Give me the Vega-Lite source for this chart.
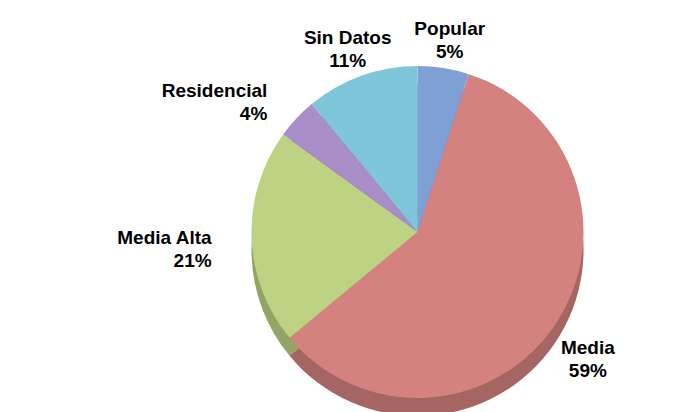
{
  "$schema": "https://vega.github.io/schema/vega-lite/v6.json",
  "autosize": "none",
  "width": 535,
  "height": 352,
  "padding": {"left": 150, "top": 56, "right": 0, "bottom": 4},
  "background": "white",
  "view": {"stroke": null},
  "data": {
    "values": [
      {"orden": 1, "categoria": "Popular", "porcentaje": 5, "etiqueta": "Popular\n5%"},
      {"orden": 2, "categoria": "Media", "porcentaje": 59, "etiqueta": "Media\n59%"},
      {"orden": 3, "categoria": "Media Alta", "porcentaje": 21, "etiqueta": "Media Alta\n21%"},
      {"orden": 4, "categoria": "Residencial", "porcentaje": 4, "etiqueta": "Residencial\n4%"},
      {"orden": 5, "categoria": "Sin Datos", "porcentaje": 11, "etiqueta": "Sin Datos\n11%"}
    ]
  },
  "encoding": {
    "theta": {"field": "porcentaje", "type": "quantitative", "stack": true},
    "order": {"field": "orden", "type": "quantitative"},
    "color": {
      "field": "categoria",
      "type": "nominal",
      "legend": null,
      "scale": {
        "domain": ["Popular", "Media", "Media Alta", "Residencial", "Sin Datos"],
        "range": ["#7ea0d4", "#d4827f", "#bdd282", "#a88dc8", "#80c6da"]
      }
    }
  },
  "layer": [
    {"mark": {"type": "arc", "outerRadius": 166, "yOffset": 18}},
    {"mark": {"type": "arc", "outerRadius": 166, "yOffset": 18, "fill": "black", "opacity": 0.22}},
    {"mark": {"type": "arc", "outerRadius": 166}},
    {
      "mark": {
        "type": "text",
        "radius": 206,
        "font": "Liberation Sans",
        "fontWeight": "bold",
        "fontSize": 19,
        "lineBreak": "\n",
        "lineHeight": 23,
        "fill": "black",
        "align": {"expr": "datum.categoria == 'Media Alta' || datum.categoria == 'Residencial' ? 'right' : 'center'"}
      },
      "encoding": {
        "text": {"field": "etiqueta", "type": "nominal"},
        "color": {"value": "black"}
      }
    }
  ]
}
